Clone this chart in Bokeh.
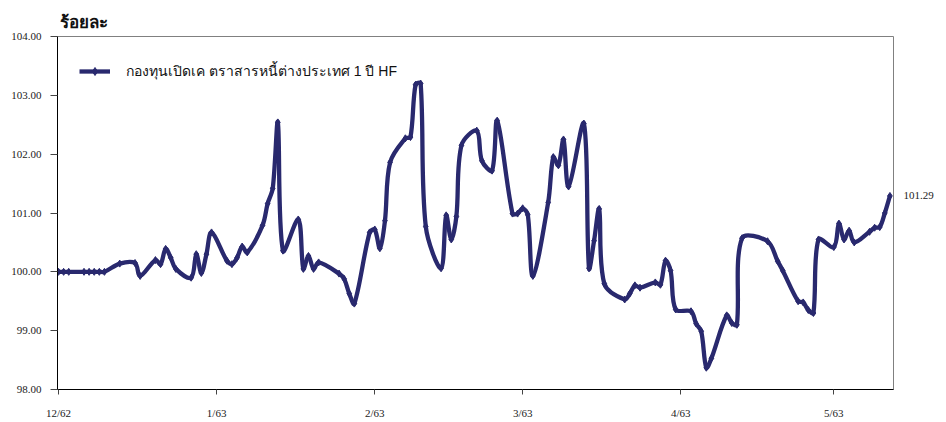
import numpy as np
from bokeh.plotting import figure
from bokeh.models import Range1d, FixedTicker, Legend, LegendItem, LinearAxis
from bokeh.embed import file_html
from bokeh.resources import INLINE

# ---- data (day index from 1 Dec 2562, NAV index in percent) ----
days = [0, 1, 2, 5, 6, 7, 8, 9, 12, 15, 16, 19, 20, 21, 22, 23, 26, 27, 28, 29, 30,
        33, 34, 35, 36, 37, 40, 41, 42, 43, 44, 47, 48, 49, 50, 51, 55, 56, 57, 58,
        61, 62, 63, 64, 65, 68, 69, 70, 71, 72, 75, 76, 77, 78, 79, 82, 83, 85, 86,
        89, 90, 91, 92, 93, 96, 97, 98, 99, 100, 103, 104, 105, 106, 107, 111, 112,
        113, 114, 117, 118, 119, 120, 121, 124, 125, 126, 127, 128, 131, 132, 133,
        134, 139, 141, 142, 145, 146, 147, 148, 149, 152, 153, 154, 155, 156, 159,
        160, 161, 162, 163]
nav = [100.00, 100.00, 100.00, 100.00, 100.00, 100.00, 100.00, 100.00, 100.14, 100.15,
       99.93, 100.20, 100.13, 100.39, 100.24, 100.05, 99.90, 100.30, 99.98, 100.30,
       100.67, 100.19, 100.13, 100.24, 100.43, 100.33, 100.79, 101.16, 101.42, 102.54,
       100.36, 100.89, 100.05, 100.27, 100.05, 100.16, 99.97, 99.88, 99.63, 99.46,
       100.67, 100.72, 100.40, 100.87, 101.86, 102.27, 102.29, 103.18, 103.20, 100.77,
       100.06, 100.96, 100.55, 100.94, 102.15, 102.40, 101.89, 101.72, 102.57, 100.99,
       100.99, 101.08, 100.97, 99.93, 101.18, 101.95, 101.81, 102.25, 101.45, 102.52,
       100.06, 100.53, 101.07, 99.80, 99.53, 99.63, 99.77, 99.73, 99.82, 99.78,
       100.19, 100.02, 99.36, 99.33, 99.12, 98.99, 98.37, 98.53, 99.26, 99.13,
       99.10, 100.57, 100.52, 100.18, 100.02, 99.50, 99.48, 99.35, 99.30, 100.55,
       100.42, 100.82, 100.55, 100.70, 100.50, 100.68, 100.75, 100.76, 101.00, 101.29]
tick_days = [0, 31, 62, 91, 122, 152]
tick_labels = ["12/62", "1/63", "2/63", "3/63", "4/63", "5/63"]
y_ticks = [98, 99, 100, 101, 102, 103, 104]
series_name = "กองทุนเปิดเค ตราสารหนี้ต่างประเทศ 1 ปี HF"
unit_label = "ร้อยละ"
last_value = 101.29

NAVY = "#29296E"
X0, X1 = -0.2, 163.7
Y0, Y1 = 98, 104
FRAME_W, FRAME_H = 836, 353

p = figure(width=946, height=422, output_backend="svg", toolbar_location=None,
           x_range=Range1d(X0, X1), y_range=Range1d(Y0, Y1),
           min_border_left=57, min_border_right=53, min_border_top=36,
           min_border_bottom=33)
p.grid.visible = False
p.outline_line_color = "#808080"
p.outline_line_width = 1
p.background_fill_color = "white"
p.border_fill_color = "white"

# unit caption as the figure title
p.title.text = unit_label
p.title.text_font = "Liberation Sans"
p.title.text_font_size = "17px"
p.title.text_font_style = "bold"
p.title.text_color = "#111111"
p.title.align = "left"
p.title.offset = 2
p.title.standoff = 10

# smoothed line: cubic Bezier between consecutive points (spreadsheet-style smoothing)
xs = np.array(days, dtype=float)
ys = np.array(nav, dtype=float)
n = len(xs)
sx = FRAME_W / (X1 - X0)
sy = FRAME_H / (Y1 - Y0)
seg = np.hypot(np.diff(xs) * sx, np.diff(ys) * sy)
tx = np.empty(n); ty = np.empty(n)
tx[1:-1] = xs[2:] - xs[:-2]; ty[1:-1] = ys[2:] - ys[:-2]
tx[0] = xs[1] - xs[0]; ty[0] = ys[1] - ys[0]
tx[-1] = xs[-1] - xs[-2]; ty[-1] = ys[-1] - ys[-2]
w0 = np.empty(n - 1); w1 = np.empty(n - 1)
w0[0] = 1.0 / 3.0
w0[1:] = seg[1:] / (seg[:-1] + seg[1:]) / 3.0
w1[-1] = 1.0 / 3.0
w1[:-1] = seg[:-1] / (seg[:-1] + seg[1:]) / 3.0
cx0 = xs[:-1] + tx[:-1] * w0
cy0 = ys[:-1] + ty[:-1] * w0
cx1 = xs[1:] - tx[1:] * w1
cy1 = ys[1:] - ty[1:] * w1
bez = p.bezier(x0=xs[:-1], y0=ys[:-1], x1=xs[1:], y1=ys[1:],
               cx0=cx0, cy0=cy0, cx1=cx1, cy1=cy1,
               line_color=NAVY, line_width=4.3)
pts = p.scatter(days, nav, marker="diamond", size=7, fill_color=NAVY,
                line_color=NAVY)

# axes
xa = p.xaxis[0]
xa.ticker = FixedTicker(ticks=tick_days)
xa.major_label_overrides = {d: l for d, l in zip(tick_days, tick_labels)}
xa.minor_tick_line_color = None
xa.major_tick_out = 5
xa.major_tick_in = 0
xa.major_label_standoff = 12
xa.axis_line_color = "black"
xa.major_tick_line_color = "#444444"
xa.major_label_text_font = "Liberation Serif"
xa.major_label_text_font_size = "11px"
xa.major_label_text_color = "#222222"

ya = p.yaxis[0]
ya.ticker = FixedTicker(ticks=y_ticks)
ya.major_label_overrides = {t: f"{t:.2f}" for t in y_ticks}
ya.minor_tick_line_color = None
ya.major_tick_out = 7
ya.major_tick_in = 0
ya.major_label_standoff = 9
ya.axis_line_color = "black"
ya.major_tick_line_color = "#444444"
ya.major_label_text_font = "Liberation Serif"
ya.major_label_text_font_size = "11px"
ya.major_label_text_color = "#222222"

# last value shown at the right edge
ra = LinearAxis(ticker=FixedTicker(ticks=[last_value]),
                major_label_overrides={last_value: f"{last_value:.2f}"},
                axis_line_color=None, major_tick_line_color=None,
                minor_tick_line_color=None, major_tick_out=0, major_tick_in=0,
                major_label_standoff=10,
                major_label_text_font="Liberation Serif",
                major_label_text_font_size="11px",
                major_label_text_color="#222222")
p.add_layout(ra, "right")

# legend
legend = Legend(items=[LegendItem(label=series_name, renderers=[bez, pts])],
                location=(22, 307), padding=0, margin=0, spacing=0,
                glyph_width=31, glyph_height=20, label_height=20,
                label_standoff=16, border_line_color=None,
                background_fill_alpha=0,
                label_text_font="Liberation Sans", label_text_font_size="14px",
                label_text_color="#111111")
p.add_layout(legend)

open("out.html", "w").write(file_html(p, INLINE))
